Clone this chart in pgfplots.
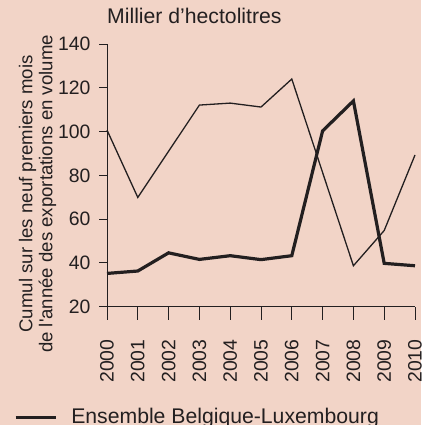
\documentclass[border=0pt]{standalone}
\usepackage{pgfplots}
\pgfplotsset{compat=1.18}
\usepackage{fontspec}
\setmainfont{Liberation Sans}
\definecolor{bg}{RGB}{242,212,199}
\definecolor{ink}{RGB}{35,31,32}
\begin{document}
\begin{tikzpicture}[x=1pt,y=1pt]
\fill[bg] (0,0) rectangle (421,425);
\useasboundingbox (0,0) rectangle (421,425);
\begin{axis}[
  at={(107pt,118.3pt)}, anchor=south west,
  scale only axis, width=308pt, height=262.7pt,
  xmin=2000, xmax=2010, ymin=20, ymax=140,
  clip=false,
  axis x line=bottom, axis y line=left,
  axis line style={ink, line width=0.9pt, -},
  xtick={2000,2001,...,2010}, ytick={20,40,...,140},
  minor xtick={2000,2001,...,2010},
  tick align=outside,
  major tick length=7.7pt,
  minor tick length=13pt,
  tick style={ink, line width=0.9pt},
  /pgf/number format/assume math mode=true,
  xticklabel={\pgfmathprintnumber[1000 sep={}]{\tick}},
  xticklabel shift=25pt,
  yticklabel shift=8.6pt,
  xticklabel style={rotate=90, anchor=east, inner sep=0pt, font=\fontsize{19.4}{20}\selectfont, text=ink},
  yticklabel style={inner sep=0pt, font=\fontsize{19.4}{20}\selectfont, text=ink},
  title={Millier d’hectolitres},
  title style={at={(axis description cs:0,1.056)}, anchor=base west, inner sep=0pt, font=\fontsize{21.2}{22}\selectfont, text=ink},
  ylabel={Cumul sur les neuf premiers mois\\de l\textquotesingle année des exportations en volume},
  ylabel style={at={(axis description cs:-0.2256,0.429)}, anchor=center, align=center, inner sep=0pt, font=\fontsize{18.6}{20}\selectfont, text=ink},
  legend style={at={(axis description cs:-0.302,-0.42)}, anchor=west, draw=none, fill=none, inner sep=0pt, font=\fontsize{21.2}{22}\selectfont, text=ink},
  legend image code/.code={\draw[ink, line width=3pt] (0pt,0pt) -- (40pt,0pt); \path (52pt,0pt);},
]
\addplot[ink, line width=1.3pt, forget plot] coordinates {
(2000,100.7) (2001,69.9) (2002,91) (2003,112.1) (2004,113) (2005,111.2)
(2006,124) (2007,81.3) (2008,38.7) (2009,54.8) (2010,89.3)};
\addplot[ink, line width=3.2pt] coordinates {
(2000,35.2) (2001,36.3) (2002,44.6) (2003,41.6) (2004,43.3) (2005,41.5)
(2006,43.3) (2007,100.3) (2008,114) (2009,39.8) (2010,38.7)};
\addlegendentry{Ensemble Belgique-Luxembourg}
\end{axis}
\end{tikzpicture}
\end{document}
